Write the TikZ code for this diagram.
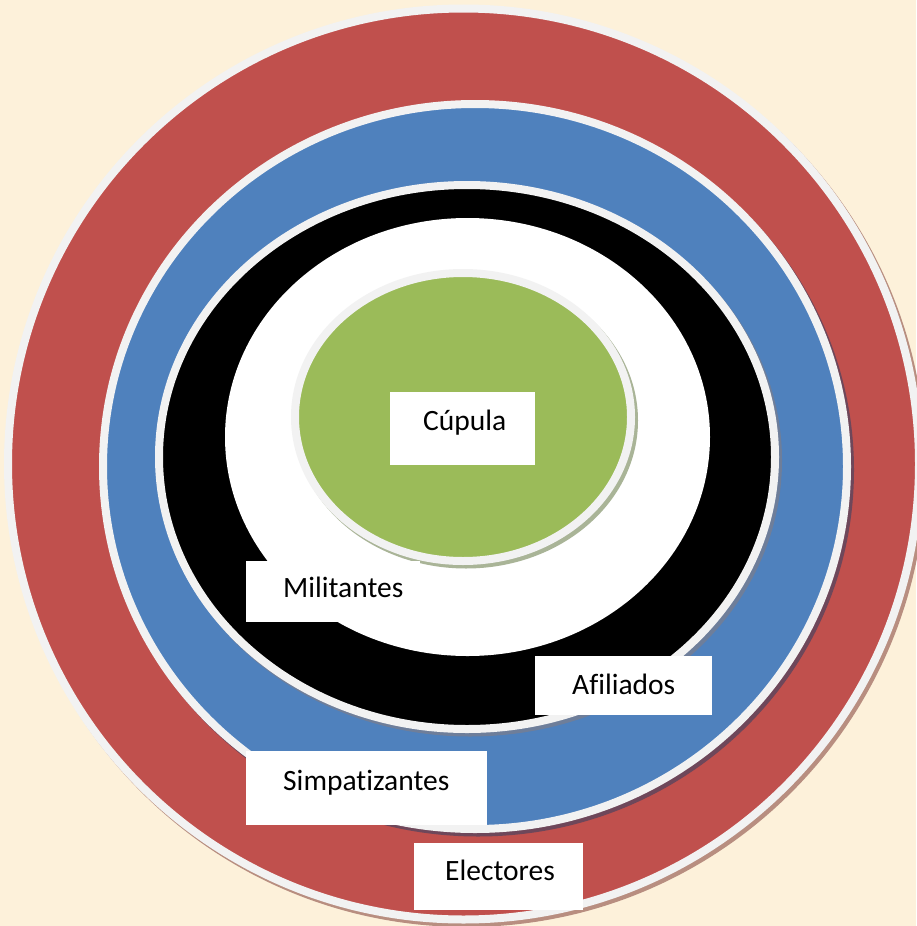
\documentclass[tikz,border=0pt]{standalone}
\usepackage{fontspec}
\setmainfont[Ligatures=NoCommon]{Carlito}
\definecolor{bgc}{HTML}{FDF1DA}
\definecolor{redc}{HTML}{C0504D}
\definecolor{bluec}{HTML}{4F81BD}
\definecolor{greenc}{HTML}{9BBB59}
\definecolor{rimc}{HTML}{F2F2F2}
\definecolor{shred}{HTML}{B88E80}
\definecolor{shblue}{HTML}{6E475A}
\definecolor{shblack}{HTML}{6E7E9A}
\definecolor{shgreen}{HTML}{A9B497}
\tikzset{
  ring/.style={draw=rimc, line width=8pt},
  lbox/.style={rectangle, fill=white, draw=none, inner sep=0pt, anchor=north west},
  ltext/.style={inner sep=0pt, anchor=base west, font=\fontsize{29.5}{35}\selectfont, text=black}
}
\begin{document}
\begin{tikzpicture}[x=1pt, y=-1pt]
\useasboundingbox (0,0) rectangle (916,926);
\fill[bgc] (0,0) rectangle (916,926);
% red
\fill[shred] (466.5,467.5) ellipse [x radius=459.5, y radius=459.5];
\filldraw[ring, fill=redc] (463.5,464) ellipse [x radius=455.5, y radius=455.5];
% blue
\fill[shblue] (478,470) ellipse [x radius=376, y radius=366.5];
\filldraw[ring, fill=bluec] (475,466.5) ellipse [x radius=372, y radius=362.5];
% black
\fill[shblack] (470,460.5) ellipse [x radius=312, y radius=276];
\filldraw[ring, fill=black] (467,457) ellipse [x radius=308, y radius=272];
% white
\fill[white] (467.5,437) ellipse [x radius=242.5, y radius=219];
% green
\fill[shgreen] (466,420.5) ellipse [x radius=172, y radius=148];
\filldraw[ring, fill=greenc] (463,417) ellipse [x radius=168, y radius=144];
% label boxes
\node[lbox, minimum width=145pt, minimum height=73pt] (bcup) at (390,392) {};
\node[lbox, minimum width=174pt, minimum height=61pt] (bmil) at (246,561) {};
\node[lbox, minimum width=177pt, minimum height=59pt] (bafi) at (535,656) {};
\node[lbox, minimum width=241pt, minimum height=74pt] (bsim) at (246,751) {};
\node[lbox, minimum width=169pt, minimum height=67pt] (bele) at (414,843) {};
% texts
\node[ltext] (tcup) at (423,430) {Cúpula};
\node[ltext] (tmil) at (283,597) {Militantes};
\node[ltext] (tafi) at (572,694) {Afiliados};
\node[ltext] (tsim) at (283,790) {Simpatizantes};
\node[ltext] (tele) at (445,880) {Electores};
\end{tikzpicture}
\end{document}
